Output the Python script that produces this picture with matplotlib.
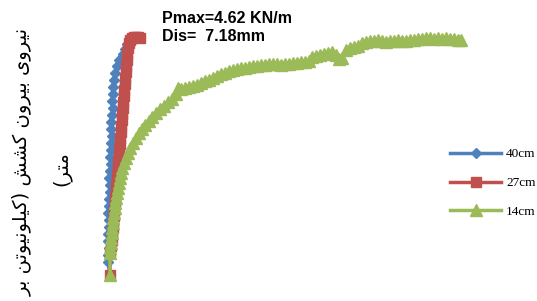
import matplotlib
matplotlib.use("Agg")
import matplotlib.pyplot as plt

# ---------------------------
# DONNEES
# ---------------------------
# deplacement (mm) / effort (kN/m)
labels = ["40cm", "27cm", "14cm"]

dis_40 = [0.4, 0.0, 0.0, 0.2, 0.0, 0.0, 0.2, 0.2, 0.0, 0.2, 0.2, 0.4, 0.4, 0.2, 0.4, 0.6, 0.4,
          0.6, 0.6, 0.8, 0.6, 0.6, 0.8, 1.0, 0.8, 1.0, 1.0, 1.2, 1.4, 1.8, 2.2, 3.0, 3.4, 3.8]
load_40 = [0.00, 0.26, 0.40, 0.54, 0.68, 0.82, 0.96, 1.10, 1.24, 1.38, 1.52, 1.66, 1.80, 1.94,
           2.08, 2.22, 2.36, 2.50, 2.64, 2.78, 2.92, 3.06, 3.20, 3.34, 3.48, 3.62, 3.76, 3.90,
           4.04, 4.18, 4.30, 4.42, 4.52, 4.62]

dis_27 = [0.4, 0.4, 0.6, 0.8, 0.8, 1.0, 1.0, 1.2, 1.2, 1.4, 1.4, 1.6, 1.6, 1.8, 1.8, 2.0, 2.0,
          2.2, 2.2, 2.4, 2.4, 2.6, 2.6, 2.8, 2.8, 3.0, 3.0, 3.2, 3.2, 3.4, 3.4, 3.6, 3.6, 3.8,
          3.8, 4.0, 4.2, 4.4, 4.8, 5.2, 5.6, 6.0, 6.4]
load_27 = [0.00, 0.46, 0.58, 0.70, 0.82, 0.94, 1.06, 1.18, 1.30, 1.42, 1.54, 1.66, 1.78, 1.90,
           2.02, 2.14, 2.26, 2.38, 2.50, 2.62, 2.74, 2.86, 2.98, 3.10, 3.22, 3.34, 3.46, 3.58,
           3.70, 3.82, 3.94, 4.06, 4.18, 4.30, 4.42, 4.54, 4.64, 4.70, 4.74, 4.76, 4.76, 4.76,
           4.74]

dis_14 = [0.4, 0.4, 0.4, 0.6, 0.6, 0.8, 0.8, 1.0, 1.0, 1.2, 1.4, 1.4, 1.6, 1.8, 2.0, 2.2, 2.4,
          2.6, 2.8, 3.2, 3.6, 4.0, 4.4, 5.0, 5.6, 6.2, 6.8, 7.4, 8.2, 8.8, 9.6, 10.4, 11.2,
          12.0, 12.8, 13.6, 14.0, 14.6, 15.4, 16.2, 17.0, 17.8, 18.6, 19.4, 20.2, 21.0, 21.8,
          22.6, 23.4, 24.2, 25.0, 25.8, 26.6, 27.4, 28.2, 29.0, 29.8, 30.6, 31.4, 32.2, 33.0,
          33.8, 34.6, 35.4, 36.2, 37.0, 37.8, 38.6, 39.4, 40.2, 40.8, 41.6, 42.4, 43.2, 44.0,
          44.8, 45.6, 46.2, 46.8, 47.6, 48.4, 49.2, 50.0, 50.8, 51.6, 52.4, 53.2, 54.0, 54.8,
          55.6, 56.4, 57.2, 58.0, 58.8, 59.6, 60.4, 61.2, 62.0, 62.8, 63.6, 64.4, 65.2, 66.0,
          66.8, 67.6, 68.4, 69.2, 70.0, 70.6]
load_14 = [0.00, 0.44, 0.54, 0.64, 0.74, 0.84, 0.94, 1.04, 1.14, 1.24, 1.34, 1.44, 1.54, 1.64,
           1.74, 1.84, 1.94, 2.04, 2.14, 2.24, 2.34, 2.44, 2.54, 2.64, 2.74, 2.84, 2.92, 3.00,
           3.08, 3.16, 3.24, 3.32, 3.38, 3.46, 3.52, 3.62, 3.74, 3.72, 3.74, 3.76, 3.78, 3.80,
           3.84, 3.88, 3.90, 3.94, 3.98, 4.02, 4.04, 4.08, 4.10, 4.12, 4.14, 4.14, 4.16, 4.18,
           4.18, 4.20, 4.20, 4.22, 4.22, 4.22, 4.20, 4.22, 4.22, 4.24, 4.24, 4.26, 4.26, 4.28,
           4.36, 4.38, 4.40, 4.42, 4.44, 4.46, 4.40, 4.32, 4.34, 4.50, 4.54, 4.56, 4.58, 4.64,
           4.66, 4.68, 4.68, 4.70, 4.68, 4.66, 4.68, 4.68, 4.70, 4.68, 4.68, 4.70, 4.70, 4.72,
           4.72, 4.74, 4.74, 4.72, 4.74, 4.72, 4.74, 4.72, 4.72, 4.70, 4.70]

ylabel_l1 = "نیروی بیرون کشش (کیلونیوتن بر"
ylabel_l2 = "متر)"
note = "Pmax=4.62 KN/m\nDis=  7.18mm"

# ---------------------------
# mise en forme du texte persan (formes de presentation + ordre visuel)
# ---------------------------
FORMS = {
    "\u0646": ("\uFEE5", "\uFEE6", "\uFEE7", "\uFEE8"),  # ن
    "\u06CC": ("\uFBFC", "\uFBFD", "\uFBFE", "\uFBFF"),  # ی
    "\u0631": ("\uFEAD", "\uFEAE"),                      # ر
    "\u0648": ("\uFEED", "\uFEEE"),                      # و
    "\u06A9": ("\uFB8E", "\uFB8F", "\uFB90", "\uFB91"),  # ک
    "\u0634": ("\uFEB5", "\uFEB6", "\uFEB7", "\uFEB8"),  # ش
    "\u0644": ("\uFEDD", "\uFEDE", "\uFEDF", "\uFEE0"),  # ل
    "\u062A": ("\uFE95", "\uFE96", "\uFE97", "\uFE98"),  # ت
    "\u0628": ("\uFE8F", "\uFE90", "\uFE91", "\uFE92"),  # ب
    "\u0645": ("\uFEE1", "\uFEE2", "\uFEE3", "\uFEE4"),  # م
}


def shape_fa(text):
    out = []
    for i, ch in enumerate(text):
        if ch not in FORMS:
            out.append(ch)
            continue
        prev = text[i - 1] if i > 0 else ""
        nxt = text[i + 1] if i + 1 < len(text) else ""
        join_prev = prev in FORMS and len(FORMS[prev]) == 4
        join_next = len(FORMS[ch]) == 4 and nxt in FORMS
        f = FORMS[ch]
        if join_prev and join_next:
            out.append(f[3])
        elif join_prev:
            out.append(f[1])
        elif join_next:
            out.append(f[2])
        else:
            out.append(f[0])
    mirror = {"(": ")", ")": "("}
    return "".join(mirror.get(c, c) for c in reversed(out))


# ---------------------------
# FIGURE
# ---------------------------
W, H = 537, 301
fig = plt.figure(figsize=(W / 100, H / 100), dpi=100)
ax = fig.add_axes([100 / W, 1 - 285 / H, 370 / W, 265 / H])

blue, red, green = "#4F81BD", "#C0504D", "#9BBB59"
l1, = ax.plot(dis_40, load_40, color=blue, lw=2.5, marker="D", ms=5, mec=blue, label=labels[0])
l2, = ax.plot(dis_27, load_27, color=red, lw=2.5, marker="s", ms=7, mec=red, label=labels[1])
l3, = ax.plot(dis_14, load_14, color=green, lw=2.5, marker="^", ms=8, mec=green, label=labels[2])

ax.set_xlim(-1.6, 72.4)
ax.set_ylim(-0.2, 5.1)
ax.axis("off")

fig.text(162 / W, 1 - 11 / H, note, fontsize=11.5, fontweight="bold", family="Liberation Sans",
         ha="left", va="top", linespacing=1.25)

fig.text(22 / W, 1 - 28 / H, shape_fa(ylabel_l1), rotation=90, fontsize=14,
         family="DejaVu Sans", ha="center", va="top")
fig.text(62 / W, 1 - 169 / H, shape_fa(ylabel_l2), rotation=90, fontsize=14,
         family="DejaVu Sans", ha="center", va="center")

leg = fig.legend(handles=[l1, l2, l3], loc="center left", bbox_to_anchor=(450 / W, 1 - 183 / H),
                 frameon=False, borderpad=0, borderaxespad=0, handlelength=3.9,
                 handletextpad=0.36, labelspacing=1.25, numpoints=1,
                 prop={"family": "Liberation Serif", "size": 9.5})

fig.savefig("out.png", dpi=100)
